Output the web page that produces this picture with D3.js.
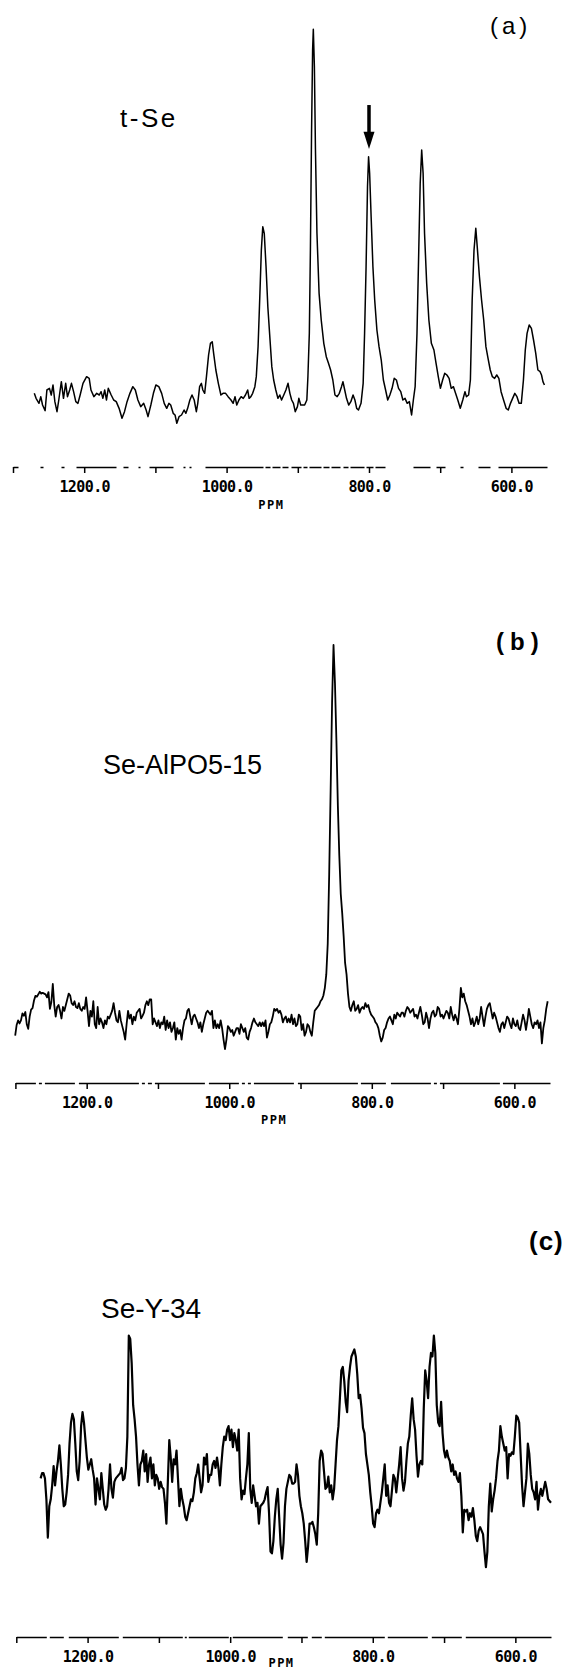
<!DOCTYPE html>
<html>
<head>
<meta charset="utf-8">
<script src="https://cdn.jsdelivr.net/npm/d3@7/dist/d3.min.js"></script>
<style>
  body { margin: 0; background: #fff; }
  svg { display: block; background: #fff; }
  .lbl { font-family: "Liberation Sans", Arial, sans-serif; fill: #000; }
  .ax text { font-family: "DejaVu Sans Mono", monospace; font-weight: bold; font-size: 15px; letter-spacing: -0.6px; fill: #000; }
  .ppm { font-family: "DejaVu Sans Mono", monospace; font-weight: bold; font-size: 12px; letter-spacing: 1.5px; fill: #000; }
</style>
</head>
<body>
<svg id="fig" width="565" height="1671"></svg>
<script>
// ---- data (ppm, arbitrary intensity) ----

// (a) t-Se, traced point by point
var aPpm = [1270.1,1267.6,1263.5,1261,1258.5,1254.9,1252.4,1248.8,1246.3,1243.8,
  1241.2,1238.2,1235.7,1232.1,1229.1,1226,1223.5,1220.4,1217.9,1214.9,
  1211.8,1208.8,1205.7,1201.7,1196.6,1193,1190.5,1186.4,1182.4,1178.8,
  1176.3,1173.8,1171.2,1168.7,1166.2,1162.1,1158.6,1155,1151,1146.9,
  1143.4,1139.8,1135.8,1131.7,1128.2,1124.6,1120.6,1116.5,1113,1110.4,
  1106.4,1102.8,1099.3,1095.2,1091.2,1087.6,1084.1,1081,1078.5,1075,
  1072.4,1069.9,1066.8,1063.3,1059.7,1057.2,1054.7,1051.6,1048.6,1045.5,
  1042.5,1040.5,1037.9,1035.4,1033.4,1030.8,1028.3,1025.3,1022.7,1020.2,
  1018.2,1015.1,1011.6,1008,1005,1001.4,997.9,993.8,990.8,988.2,
  985.7,982.7,979.6,976.6,973.5,970.4,968.4,965.9,963.4,960.3,
  958.3,955.8,953.2,951.2,949.2,947.1,944.6,942.1,939,936.5,
  933.9,930.9,927.9,925.3,922.8,919.7,916.7,913.7,911.1,908.6,
  906.1,903.6,900.5,898.5,895.9,893.4,890.4,887.3,885.8,883.8,
  882.3,880.7,879.2,878.2,876.7,875.2,873.1,870.1,867.1,863.5,
  860,856.9,853.9,850.8,847.8,844.7,841.7,838.6,836.6,834.1,
  831.6,828.5,825.5,822.4,819.8,817.3,814.8,811.2,808.2,806.2,
  804.1,802.1,800.6,799.1,797,794.5,792,788.9,785.9,782.8,
  779.8,776.7,773.7,770.7,767.6,764.6,761.5,758.5,755.4,752.4,
  749.4,746.3,743.3,740.2,737.7,735.2,732.6,730.1,728.1,726,
  724,722,719,715.9,712.4,708.8,705.8,702.7,699.7,696.6,
  693.6,690.6,687.5,684.5,681.4,678.4,675.3,671.8,668.3,665.2,
  663.2,660.1,657.6,655.1,652.5,650,648,644.9,641.9,638.9,
  635.8,632.8,629.7,626.7,623.6,620.6,617.6,614.5,611,607.4,
  604.4,601.3,598.3,595.2,592.2,589.2,586.1,583.1,580.5,578,
  575,571.9,568.9,565.8,562.8,559.7,557.7,555.7,553.6];
var aInt = [2,0.5,-1,1,-1.5,-3.2,3,3.5,1.5,4.5,
  -0.5,-3.5,0,5.5,0.5,5,1,3,5,2.5,
  -0.5,-1,1.5,5,7,6.5,3,1,2,1.5,
  2.5,0.5,3,0,3.5,1.5,0,-0.5,-2.5,-5.5,
  -3.5,-0.5,2,4,3,0,-2,-1,-3,-5,
  -1.5,2,4.5,4,2,-1,-2.5,-1,-1.5,-4,
  -4.5,-7,-5,-4.5,-3,-4,-2.5,0,1.5,0,
  -3.5,-1,4,5,3,2,7,13.5,17,17.5,
  14,9,5,1.5,2,2,1,0,-1,1,
  -1.5,0,1,0.5,1.5,3,0.5,1,2,4,
  7,16,32,45,52,50,40,28,18,10,
  6,3,0.5,1.5,0,1.5,3,5,2,0,
  -1,-3.5,-2,0.5,-1.5,-1.5,-1.5,0,7,20,
  45,80,105,111.2,100,75,50,32,24,17,
  13,11,9,6,1.5,1,2,4,5.5,3,
  0.5,-1.5,-0.5,1.5,0,-2.5,-3,-1,5,20,
  40,64,73,68,55,40,30,21,16,12,
  6,3,0,1.5,3.5,6.5,6,3.5,2.5,0,
  0.5,-1,-0.5,-4.5,0,4,20,45,65,75,
  68,50,35,24,17,15,11,7,3.5,6,
  8,7.5,6.5,3.5,4,2,0,-2.5,0,2.5,
  1,1.5,6,30,45,51.5,46,37,30,24,
  16,12.5,9,7,6.5,7.5,6.5,2.5,0,-2.5,
  -3,-1,0.5,2,1,-1,-1,6,15,20,
  22.5,21.5,18,14,9,8.5,7.5,5.5,4.5];

// (b) Se-AlPO5-15, sampled every 2.03 ppm from 1300.3 ppm
var bStart = 1300.3, bStep = 2.03;
var bInt = [-4,-1.2,0,-0.8,0,1.8,1.2,2.2,-1,-2.2,
  1,2.8,3.2,5.2,6.4,6.2,6.8,7.5,7,7.2,
  7,6.8,6,7.4,3,4.8,9.5,4,1,3.5,
  4,2.5,0.5,3.5,2.5,4,5.5,7,6.5,4.5,
  4,5,3.5,3.2,4.5,3,2.5,3.5,3,6,
  2.5,-1.5,2.5,1,5,-1,-2,3.5,-1,0.5,
  -0.5,-2,0,-1,1,0.5,1.5,2.5,4.5,2,
  0,-0.5,2.5,0,-1.5,-3,-5,-1,2.5,0.5,
  1.5,-1,1,0,2,2.5,3,0.5,1.2,2,
  4,5,4,5.5,5.5,-1,0.5,-0.5,-1.5,0,
  -2,-0.5,-1,1,-2.5,0,-2,-0.5,-3,-2,
  -0.5,-5,-2,-3.5,-2.5,-5,-2,0,0.5,2.5,
  3,1,-1,1,1.5,0.5,-0.5,-2,-0.5,-3,
  -1,0.5,2,2.5,2,1.5,2.5,-2,0,-2,
  -1,-2,0,-2,-5,-7.5,-5,-1.5,-2,-3,
  -2.5,-4,-3,-2,-2,-3.5,-1,-2,-3,-2,
  -4.5,-5,-3,-2,-0.5,0.5,-0.5,-1,-1.5,-0.5,
  -1.5,-0.5,-1.5,0,-4.5,-3,-1,-0.5,1,3,
  2.5,3,2,2.5,1.5,-0.5,0.5,1,-0.5,0.5,
  -0.5,1.5,-1,0.5,-1.5,-1,1.5,1,-2.5,-1,
  -4,-3,-1,-1.5,-3,-4,-0.5,2.5,3,3.5,
  4,5,5.5,6.5,8.5,12,20,38,60,83,
  98,88,73,56,43,33,28,22,15,12,
  7,3.5,2.5,4,5,2.5,3,4,2,3,
  3.5,3,4.5,3.5,4,2.5,1.5,1,0.5,-0.5,
  -1,-2,-4,-5.5,-4.5,-2.5,-2,-0.5,0.5,1,
  0,-1,1.5,0.5,2,1.5,1,2,2,1,
  2.5,3.5,3,2,2.5,3,1,1.5,0.5,2,
  3.5,1.5,-1,-0.5,2,0.5,-2,0.5,2,2.5,
  1,1.5,3.5,3,1,1.5,0.5,1.5,2.5,2,
  0.5,3.5,1.5,0,1.5,0.5,-1,3,8.5,6,
  7,5,4,2.5,1,-1,0.5,-1.5,-0.5,1,
  -1,0.5,3.5,1,-1.5,1,3,4,4.5,2.5,
  0.5,2,1,-0.5,-2,-3,-1,-0.5,-2,-0.5,
  1,0.5,-1,-2,0.5,-1,-1.5,0,-2,-2.5,
  -0.5,1.5,0,-2.5,0,3,1,-1,-2,-0.5,
  -1,0,-2,-0.5,-6,-2,0,3,5];

// (c) Se-Y-34, sampled every 2.028 ppm from 1265.9 ppm
var cStart = 1265.9, cStep = 2.028;
var cInt = [0,1.5,1.5,0,-6,-17,-8,-6,-2,3.5,
  -2,2,5,9.5,4,-3,-8,-7.5,-4,1,
  10,16,18.5,17,10,2,-0.5,5,15,19,
  16,11,6,2.5,4,5.5,2.5,0,-7.5,0,
  -3,-6,1.5,-3,-7.5,-9,-8,-3,4,-3,
  -5.5,-1,0,0.5,1,1.5,3,-0.5,0,3,
  12,41,40,33,21,17,12,4,-2,4,
  5,8,2,7,-1,4,6,0,4,-2,
  1,0,-3,-1,-2.5,-3,-7,-13,-1,11,
  6,-1,5.5,4,8,0,-8,-3,-6,-8,
  -11,-12,-10,-8,-6,-6.5,-4,0,1.5,4,
  0,-4,-2,6,4,7,-1,1,1,4,
  5,3,6,3,-2,4,9,12,11,14,
  15,11,14,9,13,11,8,14,0,-6,
  -3.5,-4.5,0,4,13,-3,-7,-2,-5,-8,
  -7,-13,-8,-7.5,-7,-6,-4,-2.5,-10,-21,
  -21.5,-18,-11,-6,-3,-11,-19,-23,-18.5,-8,
  -3,-1,1,0.5,-1.5,-1.5,-1,4,1,-5,
  -8,-10,-13,-18,-24,-19.5,-13,-13,-12.5,-14,
  -16,-19,-10,5,8,7,2,-3,-2.5,0.5,
  -4,-2,-6,-3,4,11,15,23,31,32,
  28,22,19,28,32,35,36,37,35,30,
  23,24,20,14.5,13,7,4,1,-4,-8,
  -13,-14,-10,-9,-10,-7,-4,0,4,-5,
  -2,-7,-8,-3.5,1,0,-4,0,4,9,
  0,-3.5,-1,5,10,12,18,23,17,14,
  6.5,0.5,4,5,4,20,31,28,23,32,
  36,35,41,36,21,16,15,22,13,8,
  6,8,6,5,2,4,1,2,0,-1,
  1.5,-5,-15.5,-9,-9.5,-9,-12,-10,-11,-8.5,
  -12,-16.5,-18,-15,-14,-15,-16,-21,-25.5,-21,
  -8,-1.5,-9.5,-6,-3.5,0,5,8,15,12,
  10,8,9,0,7,6.5,7.5,7,12,18,
  17.5,16,7,-2,-8,-4,0,10,7,1,
  -3,-4,-6,-1,-9,-5,-3,-5,-3,-1,
  -3,-6,-6.5,-7];

var tickPpm = [1300, 1200, 1100, 1000, 900, 800, 700, 600];
var ppmDomain = [1300, 550];
var names = ["t-Se", "Se-AlPO5-15", "Se-Y-34"];
var tags = ["(a)", "(b)", "(c)"];
var arrowPpm = 800;

function zipPairs(xs, ys) {
  return ys.map(function(v, i) { return [xs[i], v]; });
}
function gridPairs(start, step, ys) {
  return ys.map(function(v, i) { return [start - i * step, v]; });
}

// layout of the three stacked panels
var panels = [
  { pts: zipPairs(aPpm, aInt), x0: 13, x1: 547, base: 400, k: 3.333, axisY: 467, lw: 1.5,
    ppmAt: 937, ppmDy: 42,
    nameX: 120, nameY: 127, nameSize: 26, nameLs: 2.5,
    tagX: 490, tagY: 34, tagSize: 24, tagLs: 4, tagW: "normal",
    dash: "5,22,3,18,3,12,40,7,5,10,2,9,24,10,2,4,2,14,58,2,5,2,8,2,6,3,10,2,4,2,12,2,6,2,9,3,5,2,14,2,7,2,10,28,17,6,9,15,3,15,12,8,60" },
  { pts: gridPairs(bStart, bStep, bInt), x0: 15.4, x1: 550, base: 1020.4, k: 3.831, axisY: 1083, lw: 1.8,
    ppmAt: 937, ppmDy: 41,
    nameX: 103, nameY: 774, nameSize: 27, nameLs: 0,
    tagX: 496, tagY: 650, tagSize: 24, tagLs: 6, tagW: "bold",
    dash: "20,3,3,3,30,4,60,3,3,3,4,3,50,4,30,3,3,3,3,3,40,4,60,3,25,5,40,3,3,3,60,3,200" },
  { pts: gridPairs(cStart, cStep, cInt), x0: 16.3, x1: 551, base: 1478.4, k: 3.484, axisY: 1637, lw: 2.2,
    ppmAt: 928, ppmDy: 29.5,
    nameX: 101, nameY: 1318, nameSize: 28, nameLs: 0,
    tagX: 529, tagY: 1250, tagSize: 26, tagLs: 1, tagW: "bold",
    dash: "30,3,14,5,50,4,60,2,2,2,40,4,50,5,20,4,10,3,60,3,40,4,30,4,200" }
];

var svg = d3.select("#fig");

panels.forEach(function(p, i) {
  var x = d3.scaleLinear().domain(ppmDomain).range([p.x0, p.x1]);
  var y = d3.scaleLinear().domain([0, 100]).range([p.base, p.base - 100 * p.k]);
  var g = svg.append("g").attr("class", "panel");

  g.append("path")
    .datum(p.pts)
    .attr("fill", "none")
    .attr("stroke", "#000")
    .attr("stroke-width", p.lw)
    .attr("stroke-linejoin", "round")
    .attr("d", d3.line().x(function(d) { return x(d[0]); }).y(function(d) { return y(d[1]); }));

  var axis = d3.axisBottom(x)
    .tickValues(tickPpm)
    .tickSize(6)
    .tickSizeOuter(0)
    .tickPadding(8)
    .tickFormat(function(d) { return d % 200 === 0 ? d.toFixed(1) : ""; });

  var ax = g.append("g").attr("class", "ax")
    .attr("transform", "translate(0," + p.axisY + ")")
    .call(axis);
  ax.select(".domain").attr("stroke-width", 1.6).attr("stroke-dasharray", p.dash);
  ax.selectAll(".tick line").attr("stroke-width", 1.5);

  g.append("text").attr("class", "ppm")
    .attr("x", x(p.ppmAt)).attr("y", p.axisY + p.ppmDy)
    .attr("text-anchor", "middle")
    .text("PPM");

  g.append("text").attr("class", "lbl")
    .attr("x", p.nameX).attr("y", p.nameY)
    .style("font-size", p.nameSize + "px")
    .style("letter-spacing", p.nameLs + "px")
    .text(names[i]);

  g.append("text").attr("class", "lbl")
    .attr("x", p.tagX).attr("y", p.tagY)
    .style("font-size", p.tagSize + "px")
    .style("letter-spacing", p.tagLs + "px")
    .style("font-weight", p.tagW)
    .text(tags[i]);

  // arrow marking the isotropic line in (a)
  if (i === 0) {
    var ax0 = x(arrowPpm);
    g.append("line")
      .attr("x1", ax0).attr("x2", ax0)
      .attr("y1", y(88.5)).attr("y2", y(79))
      .attr("stroke", "#000").attr("stroke-width", 3.5);
    g.append("path")
      .attr("d", "M" + (ax0 - 5.5) + "," + y(80.5) + "L" + (ax0 + 5.5) + "," + y(80.5) + "L" + ax0 + "," + y(75.3) + "Z")
      .attr("fill", "#000");
  }
});
</script>
</body>
</html>
